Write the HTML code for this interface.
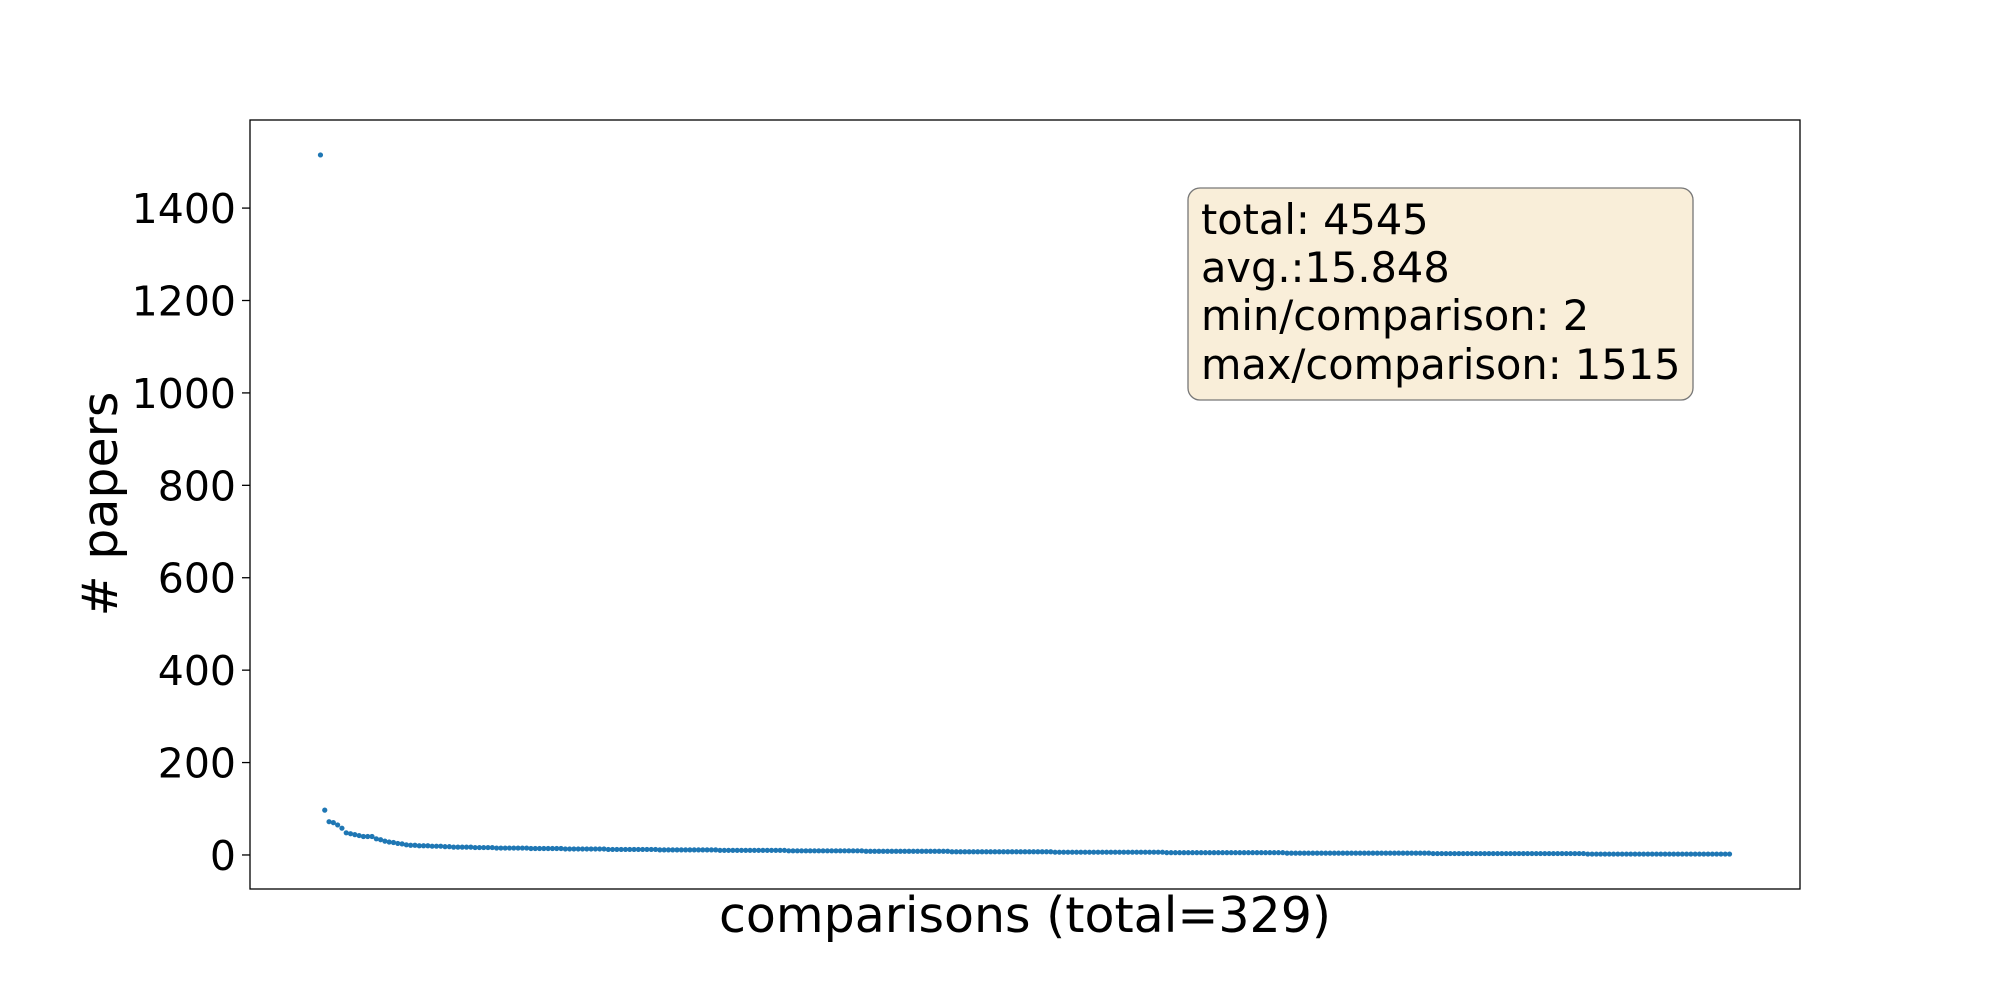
<!DOCTYPE html>
<html><head><meta charset="utf-8"><style>
html,body{margin:0;padding:0;background:#fff;}
svg{display:block;font-family:"DejaVu Sans","Liberation Sans",sans-serif;}
</style></head><body>
<svg id="chart" width="2000" height="1000" viewBox="0 0 2000 1000" xmlns="http://www.w3.org/2000/svg">
<rect x="0" y="0" width="2000" height="1000" fill="#fff"/>
<g id="ticks"></g>
<g id="points"></g>
<rect x="250" y="120" width="1550" height="769" fill="none" stroke="#000" stroke-width="1.3"/>
<text x="1025" y="932" font-size="49" text-anchor="middle">comparisons (total=329)</text>
<text transform="translate(117,504) rotate(-90)" font-size="49" text-anchor="middle"># papers</text>
<g>
<rect x="1188" y="188" width="505" height="212" rx="12" ry="12" fill="#f9eed9" stroke="#777" stroke-width="1.3"/>
<text x="1201" y="234" font-size="41.5">total: 4545</text>
<text x="1201" y="282" font-size="41.5">avg.:15.848</text>
<text x="1201" y="330" font-size="41.5">min/comparison: 2</text>
<text x="1201" y="379" font-size="41.5">max/comparison: 1515</text>
</g>
</svg>
<script>
const headValues = [1515,97,72,70,65,58,48,46,44,42,40,40,40,35,33,30,28,27,25,24,22,21,21,20,20,20,19,19,19,18,18];
const tailRunValues = [17,16,15,14,13,12,11,10,9,8,7,6,5,4,3,2];
const tailRunCounts = [5,5,8,8,10,12,14,16,18,20,24,26,28,34,36,34];
const yTickValues = [0,200,400,600,800,1000,1200,1400];

const values = headValues.slice();
tailRunValues.forEach((v,i)=>{ for(let k=0;k<tailRunCounts[i];k++) values.push(v); });

const n = values.length;
const xMin = -0.05*(n-1), xMax = (n-1)*1.05;
const vMin = Math.min(...values), vMax = Math.max(...values), span = vMax - vMin;
const yMin = vMin - 0.05*span, yMax = vMax + 0.05*span;
const L=250,R=1800,T=120,B=889;
const xS = i => L + (i - xMin)/(xMax - xMin)*(R-L);
const yS = v => B - (v - yMin)/(yMax - yMin)*(B-T);
const NS="http://www.w3.org/2000/svg";

const tg=document.getElementById('ticks');
yTickValues.forEach(t=>{
  const y=yS(t);
  const ln=document.createElementNS(NS,'line');
  ln.setAttribute('x1',L-8);ln.setAttribute('x2',L);ln.setAttribute('y1',y);ln.setAttribute('y2',y);
  ln.setAttribute('stroke','#000');ln.setAttribute('stroke-width','1.3');
  
  
  tg.appendChild(ln);
  const tx=document.createElementNS(NS,'text');
  tx.setAttribute('x',L-14);tx.setAttribute('y',y+15);tx.setAttribute('font-size','41');tx.setAttribute('text-anchor','end');
  tx.textContent=t;
  
  
  tg.appendChild(tx);
});

const pg=document.getElementById('points');
values.forEach((v,i)=>{
  const c=document.createElementNS(NS,'circle');
  c.setAttribute('cx',xS(i));c.setAttribute('cy',yS(v));c.setAttribute('r','2.6');c.setAttribute('fill','#1f77b4');
  
  
  pg.appendChild(c);
});
</script>
</body></html>
